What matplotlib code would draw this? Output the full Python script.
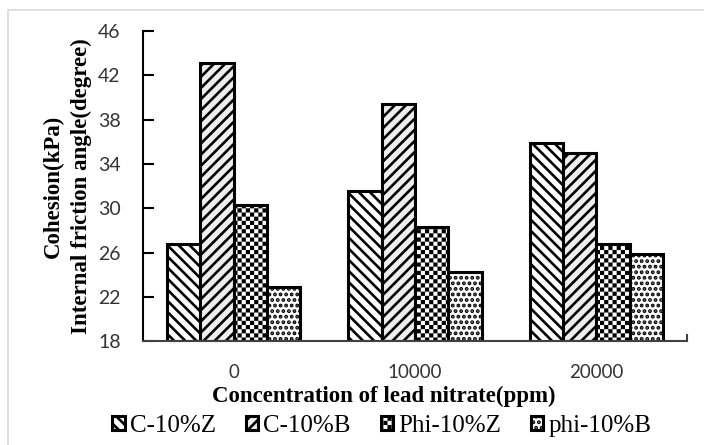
import numpy as np
import matplotlib
matplotlib.use("Agg")
import matplotlib.pyplot as plt
import matplotlib.hatch as mhatch
from matplotlib.path import Path
from matplotlib.patches import Rectangle, Patch

# data
groups = ['0', '10000', '20000']
series = ['C-10%Z', 'C-10%B', 'Phi-10%Z', 'phi-10%B']
c_z = [26.8, 31.6, 35.9]
c_b = [43.1, 39.4, 35.0]
phi_z = [30.3, 28.3, 26.8]
phi_b = [22.9, 24.3, 25.9]
yticks = [18, 22, 26, 30, 34, 38, 42, 46]


# checkerboard hatch ('*' is taken over for it, stars are not used here)
class CheckerHatch(mhatch.HatchPatternBase):
    def __init__(self, hatch, density):
        self.n = hatch.count('*') * density
        self.num_vertices = 5 * 2 * self.n * self.n

    def set_vertices_and_codes(self, vertices, codes):
        s = 1.0 / (2 * self.n)
        shrink = 0.013  # hatch stroke widens the squares a bit
        sq = np.array([[0, 0], [1, 0], [1, 1], [0, 1], [0, 0]]) * (s - 2 * shrink) + shrink
        sq_codes = [Path.MOVETO, Path.LINETO, Path.LINETO, Path.LINETO, Path.CLOSEPOLY]
        k = 0
        for i in range(self.n):
            for j in range(self.n):
                for ox, oy in [(2 * i * s, 2 * j * s), ((2 * i + 1) * s, (2 * j + 1) * s)]:
                    vertices[k:k + 5] = sq + [ox, oy]
                    codes[k:k + 5] = sq_codes
                    k += 5


mhatch._hatch_types = [h for h in mhatch._hatch_types if h is not mhatch.Stars] + [CheckerHatch]

plt.rcParams['hatch.linewidth'] = 1.9
plt.rcParams['hatch.color'] = 'black'

fig = plt.figure(figsize=(7.04, 4.45), dpi=100)
ax = fig.add_axes([0.203, 0.233, 0.773, 0.697])

# chart frame (light grey border like the source)
fig.patches.append(Rectangle((0.011, -0.05), 1.2, 1.028, transform=fig.transFigure,
                             fill=False, edgecolor='#d9d9d9', linewidth=1.2))

x = np.arange(len(groups))
w = 0.184
styles = [
    dict(facecolor='white', hatch='\\\\\\'),
    dict(facecolor='#eeeeee', hatch='///'),
    dict(facecolor='white', hatch='**'),
    dict(facecolor='white', hatch='...'),
]
values = [c_z, c_b, phi_z, phi_b]
for i, (vals, st) in enumerate(zip(values, styles)):
    ax.bar(x + (i - 1.5) * w, np.array(vals) - 18, bottom=18, width=w,
           edgecolor='black', linewidth=2.2, label=series[i], **st)

ax.set_xlim(-0.5, 2.5)
ax.set_ylim(18, 46)
ax.set_yticks(yticks)
ax.set_xticks(x)
ax.set_xticklabels(groups)
ax.set_xticks([2.5], minor=True)

for sp in ['top', 'right']:
    ax.spines[sp].set_visible(False)
ax.spines['left'].set_linewidth(1.5)
ax.spines['bottom'].set_linewidth(1.5)
ax.spines['bottom'].set_color('#404040')

ax.tick_params(axis='y', direction='in', length=8, width=1.5, labelsize=14, pad=16)
ax.tick_params(axis='x', which='major', length=0, labelsize=13.5, pad=16)
ax.tick_params(axis='x', which='minor', direction='in', length=5, width=1.5, color='#404040')
for lab in ax.get_xticklabels() + ax.get_yticklabels():
    lab.set_fontfamily('Lato')
    lab.set_color('#333333')

ax.set_xlabel('Concentration of lead nitrate(ppm)', fontfamily='Liberation Serif',
              fontweight='bold', fontsize=16.5, labelpad=4)
ax.xaxis.label.set_x(0.443)
ax.set_ylabel('Cohesion(kPa)\nInternal friction angle(degree)', fontfamily='Liberation Serif',
              fontweight='bold', fontsize=16.5, labelpad=4, linespacing=1.45)

handles = [Patch(edgecolor='black', linewidth=2.2, **st) for st in styles]
leg = ax.legend(handles, series, ncol=4, loc='upper center', bbox_to_anchor=(0.439, -0.237),
                frameon=False, handlelength=0.5, handleheight=0.5, handletextpad=0.2,
                columnspacing=1.2, borderaxespad=0, borderpad=0,
                prop={'family': 'Liberation Serif', 'size': 18})

fig.savefig('out.png', dpi=100)
